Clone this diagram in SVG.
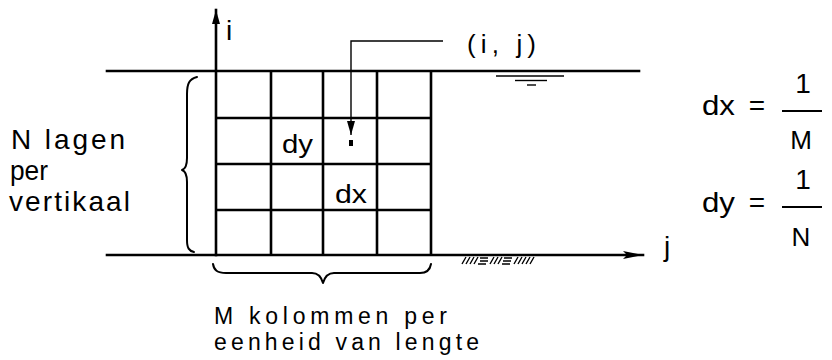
<svg xmlns="http://www.w3.org/2000/svg" width="832" height="360" viewBox="0 0 832 360">
<style>
text{font-family:"Liberation Sans",Arial,sans-serif;fill:#000}
.ln{stroke:#000;stroke-width:2.6;fill:none;stroke-linecap:square}
.gr{stroke:#000;stroke-width:2.6;fill:none}
.th{stroke:#000;stroke-width:1.4;fill:none}
.br{stroke:#000;stroke-width:2;fill:none;stroke-linecap:round;stroke-linejoin:round}
.t28{font-size:28px}
.t26{font-size:26px}
.t23{font-size:23px}
</style>
<defs>
<marker id="ah" viewBox="0 0 20 8" refX="20" refY="4" markerWidth="20" markerHeight="8" markerUnits="userSpaceOnUse" orient="auto">
<path d="M0,0 L20,4 L0,8 L4,4 Z" fill="#000"/>
</marker>
<marker id="ah2" viewBox="0 0 14 8" refX="14" refY="4" markerWidth="14" markerHeight="8" markerUnits="userSpaceOnUse" orient="auto">
<path d="M0,0 L14,4 L0,8 Z" fill="#000"/>
</marker>
</defs>
<rect width="832" height="360" fill="#fff"/>

<g id="surfaces">
<line class="ln" x1="107" y1="71" x2="639" y2="71"/>
<g id="water-symbol">
<line class="th" x1="496" y1="76" x2="564" y2="76"/>
<line class="th" x1="515" y1="80.5" x2="547" y2="80.5"/>
<line class="th" x1="527" y1="85" x2="536" y2="85"/>
</g>
<g id="bed-hatch" class="th">
<path d="M462,264 L466,257 M466,264 L470,257 M470,264 L474,257 M474,264 L478,257 M480,258 L488,258 M480,261 L488,261 M478,264 L486,264 M490,264 L494,257 M494,264 L498,257 M498,264 L502,257 M504,258 L512,258 M503,261 L511,261 M502,264 L510,264 M514,264 L518,257 M518,264 L522,257 M522,264 L526,257 M526,264 L530,257 M530,264 L534,257"/>
</g>
</g>

<g id="grid">
<line class="gr" x1="216" y1="118" x2="431" y2="118"/>
<line class="gr" x1="216" y1="164" x2="431" y2="164"/>
<line class="gr" x1="216" y1="210" x2="431" y2="210"/>
<line class="gr" x1="271" y1="71" x2="271" y2="255"/>
<line class="gr" x1="323" y1="71" x2="323" y2="255"/>
<line class="gr" x1="377" y1="71" x2="377" y2="255"/>
<line class="gr" x1="431" y1="71" x2="431" y2="255"/>
</g>

<g id="connectors">
<line id="axis-i" class="ln" x1="216" y1="255" x2="216" y2="10" marker-end="url(#ah2)"/>
<line id="axis-j" class="ln" x1="107" y1="255" x2="643" y2="255" marker-end="url(#ah)"/>
<path id="leader" class="th" d="M443,41 L351,41 L351,135" marker-end="url(#ah2)"/>
<rect x="349" y="140" width="4" height="6" fill="#000"/>
</g>

<g id="braces">
<path class="br" d="M197,77 C189,79 187,84 187,94 L187,158 C187,166 185,169 182,170 C185,171 187,174 187,182 L187,240 C187,248 189,251 194,252"/>
<path class="br" d="M213,264 C214,270 217,273 226,273 L312,273 C318,273 321,276 323,283 C325,276 328,273 334,273 L420,273 C427,273 430,270 431,264"/>
</g>

<g id="label-i"><text class="t28" x="226" y="40">i</text></g>
<g id="label-ij"><text class="t26" x="467" y="53" textLength="69" lengthAdjust="spacing">(i, j)</text></g>
<g id="label-dy"><text class="t26" x="282" y="153" textLength="31" lengthAdjust="spacingAndGlyphs">dy</text></g>
<g id="label-dx"><text class="t26" x="335" y="203" textLength="32" lengthAdjust="spacingAndGlyphs">dx</text></g>
<g id="label-j"><text class="t28" x="664" y="256">j</text></g>

<g id="label-N">
<text class="t28" x="11" y="149" textLength="114" lengthAdjust="spacing">N lagen</text>
<text class="t28" x="10" y="180" textLength="38" lengthAdjust="spacingAndGlyphs">per</text>
<text class="t28" x="9" y="211" textLength="121" lengthAdjust="spacing">vertikaal</text>
</g>

<g id="label-M">
<text class="t23" x="214" y="324" textLength="233" lengthAdjust="spacing">M kolommen per</text>
<text class="t23" x="214" y="350" textLength="265" lengthAdjust="spacing">eenheid van lengte</text>
</g>

<g id="formula-dx">
<text class="t28" x="702" y="115" textLength="33" lengthAdjust="spacingAndGlyphs">dx</text>
<text class="t28" x="757" y="115" text-anchor="middle">=</text>
<line class="th" x1="782" y1="111" x2="822" y2="111" style="stroke-width:2"/>
<text class="t28" x="803" y="93" text-anchor="middle">1</text>
<text class="t26" x="801" y="149" text-anchor="middle">M</text>
</g>

<g id="formula-dy">
<text class="t28" x="702" y="212" textLength="33" lengthAdjust="spacingAndGlyphs">dy</text>
<text class="t28" x="757" y="212" text-anchor="middle">=</text>
<line class="th" x1="782" y1="207" x2="822" y2="207" style="stroke-width:2"/>
<text class="t28" x="803" y="189" text-anchor="middle">1</text>
<text class="t26" x="801" y="246" text-anchor="middle">N</text>
</g>
</svg>
